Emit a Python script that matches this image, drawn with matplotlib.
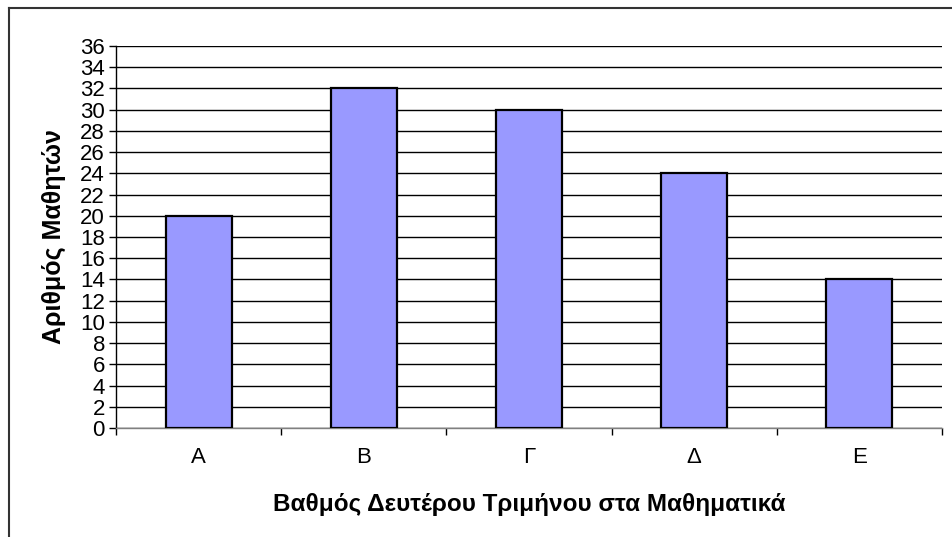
import matplotlib
matplotlib.use("Agg")
import matplotlib.pyplot as plt
from matplotlib.lines import Line2D

categories = ["Α", "Β", "Γ", "Δ", "Ε"]
values = [20, 32, 30, 24, 14]
yticks = list(range(0, 37, 2))

plt.rcParams['font.family'] = ['Liberation Sans', 'DejaVu Sans']

fig = plt.figure(figsize=(9.53, 5.37), dpi=100)
ax = fig.add_axes([116/953, 1 - 428/537, (942-116)/953, (428-46)/537])

x = list(range(len(categories)))
ax.bar(x, values, width=0.4, color="#9999FF", edgecolor="black", linewidth=1.6, zorder=3)

ax.set_xlim(-0.5, len(categories) - 0.5)
ax.set_ylim(0, 36)
ax.set_yticks(yticks)
ax.set_yticklabels([str(t) for t in yticks], fontsize=16)
ax.yaxis.grid(True, color="black", linewidth=1, zorder=0)
ax.set_axisbelow(True)

ax.set_xticks([i - 0.5 for i in range(len(categories) + 1)])
ax.set_xticklabels([])
ax.set_xticks(x, minor=True)
ax.set_xticklabels(categories, minor=True, fontsize=16)
ax.tick_params(axis='x', which='minor', length=0, pad=14)
ax.tick_params(axis='x', which='major', length=5, direction='out', width=1)
ax.tick_params(axis='y', length=5, direction='out', width=1, pad=3)

for s in ["top", "right"]:
    ax.spines[s].set_visible(False)
ax.spines["left"].set_linewidth(1)
ax.spines["bottom"].set_color("#808080")
ax.spines["bottom"].set_linewidth(1)

ax.set_xlabel("Βαθμός Δευτέρου Τριμήνου στα Μαθηματικά", fontsize=17.5, fontweight="bold", labelpad=18)
ax.set_ylabel("Αριθμός Μαθητών", fontsize=18, fontweight="bold", labelpad=10)

# outer chart frame (only top and left edges visible)
fig.add_artist(Line2D([9/953, 9/953], [0, 1 - 8/537], transform=fig.transFigure, color="#333333", linewidth=1.5))
fig.add_artist(Line2D([9/953, 1], [1 - 8/537, 1 - 8/537], transform=fig.transFigure, color="#333333", linewidth=1.5))

fig.savefig("out.png", dpi=100)
